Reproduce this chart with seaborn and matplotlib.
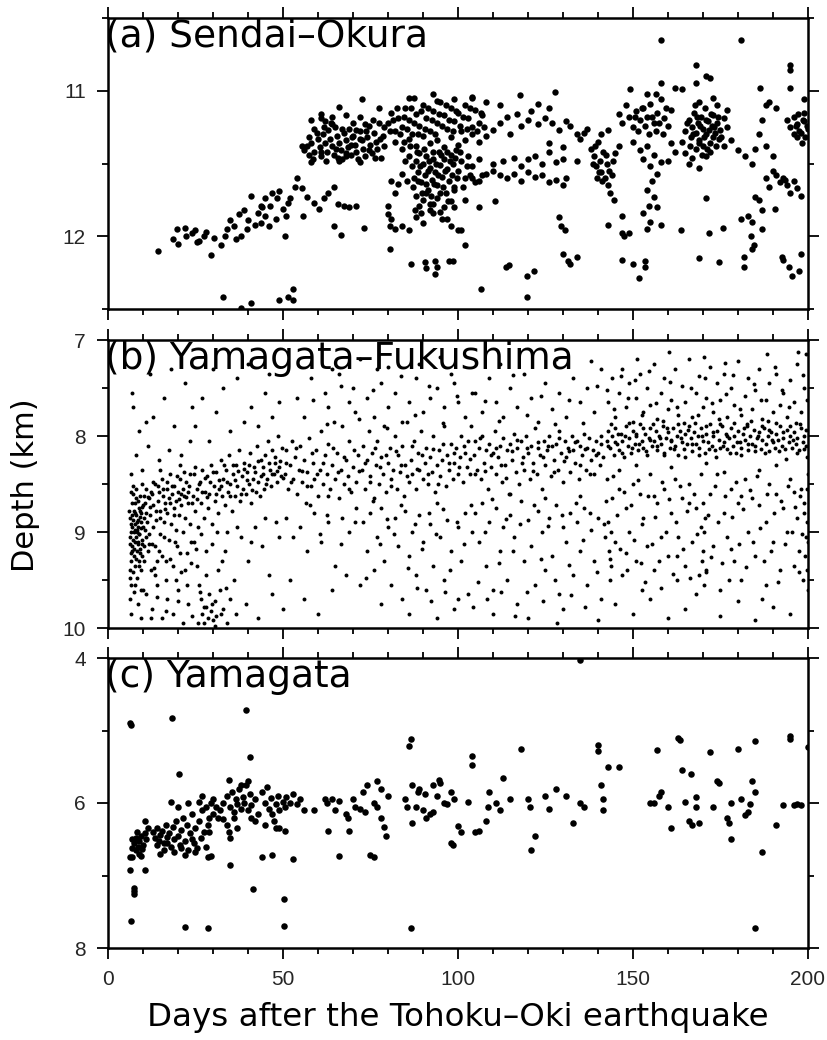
import numpy as np
import pandas as pd
import matplotlib
matplotlib.use("Agg")
import matplotlib.pyplot as plt
import seaborn as sns
from matplotlib.ticker import MultipleLocator

# ---------------- data (day, depth km) ----------------
panel_labels = ["(a) Sendai\u2013Okura", "(b) Yamagata\u2013Fukushima", "(c) Yamagata"]
x_label = "Days after the Tohoku\u2013Oki earthquake"
y_label = "Depth (km)"

sendai_pts = [
    # early ramp
    (14.4,12.10),(18.6,12.02),(19.7,11.95),(22,11.94),(22.3,12.0),(25,11.96),(25.3,12.04),(27.3,12.0),
    (29.3,12.13),(30.4,12.01),(32.2,12.06),(33.3,12.0),(36,11.93),(36.6,12.02),(37.3,11.85),(39.6,11.95),
    (40,11.89),(38.9,11.82),(43,11.84),(43.6,11.79),(44.9,11.86),(43.6,11.91),(46.3,11.79),(48.3,11.74),
    (49,11.69),(50,11.81),(51,11.86),(51.3,11.77),(50.6,12.00),(52,11.74),(53.3,11.66),(54,11.60),
    (55.3,11.67),(55.6,11.86),(56.9,11.73),(58.9,11.77),(60.3,11.81),(61.6,11.74),(63,11.70),(64.6,11.66),
    (65.6,11.78),(67.3,11.79),(69,11.80),(71,11.79),(48,11.88),(46,11.93),(44,11.80),(42,11.92),(41,11.72),
    (47,11.70),(35,11.89),(34,11.95),(28,11.97),(26,12.03),(24,11.98),(20,12.05),(38,12.0),(45,11.74),
    # cluster days 55-79
    (56,11.41),(57,11.38),(57.5,11.44),(58,11.36),(59,11.42),(60,11.33),(60.5,11.39),(61,11.45),(61.5,11.30),
    (62,11.36),(62.5,11.42),(63,11.27),(63.5,11.33),(64,11.38),(64.5,11.44),(65,11.25),(65.5,11.31),(66,11.36),
    (66.5,11.41),(67,11.47),(67.5,11.29),(68,11.34),(68.5,11.39),(69,11.26),(69.5,11.44),(70,11.31),(70.5,11.37),
    (71,11.42),(71.5,11.47),(72,11.28),(72.5,11.34),(73,11.40),(73.5,11.45),(74,11.32),(74.5,11.24),(75,11.37),
    (75.5,11.43),(76,11.29),(76.5,11.35),(77,11.40),(77.5,11.22),(78,11.46),(78.5,11.31),(79,11.38),(62,11.21),
    (64,11.23),(66,11.48),(68,11.45),(70,11.22),(72,11.49),(59,11.26),(61,11.19),(64,11.18),(58,11.20),
    (68,11.17),(72,11.18),(61,11.16),(66,11.11),(72.7,11.06),(77.3,11.12),
    (55.5,11.38),(57.3,11.32),(58.6,11.47),(59.8,11.29),(60.8,11.42),(62.3,11.48),(63.7,11.22),(65.2,11.40),
    (66.8,11.26),(67.9,11.43),(69.3,11.37),(70.8,11.27),(71.9,11.33),(73.3,11.23),(74.7,11.41),(76.2,11.46),
    (77.6,11.33),(78.8,11.25),(57.9,11.49),(61.8,11.25),(65.7,11.46),(69.7,11.32),(73.7,11.28),(75.8,11.20),
    # cluster days 80-108
    (80,11.22),(81,11.15),(82,11.28),(83,11.19),(84,11.25),(85,11.12),(86,11.20),(87,11.30),(88,11.16),
    (89,11.24),(90,11.10),(91,11.19),(92,11.28),(93,11.14),(94,11.22),(95,11.08),(96,11.17),(97,11.26),
    (98,11.12),(99,11.21),(100,11.15),(101,11.28),(102,11.10),(103,11.19),(104,11.25),(105,11.13),(106,11.22),
    (107,11.17),(108,11.08),(104,11.05),(99,11.06),(94,11.07),(86,11.05),(82,11.35),(84,11.40),(86,11.33),
    (88,11.38),(90,11.31),(92,11.36),(94,11.34),(96,11.39),(98,11.32),(100,11.37),(102,11.34),(104,11.30),
    (106,11.35),(108,11.31),(87.3,11.05),(93,11.02),(104,11.04),
    (80.5,11.28),(81.5,11.20),(82.5,11.12),(83.5,11.30),(84.5,11.18),(85.5,11.26),(86.5,11.12),(87.5,11.22),
    (88.5,11.30),(89.5,11.14),(90.5,11.26),(91.5,11.12),(92.5,11.20),(93.5,11.30),(94.5,11.16),(95.5,11.24),
    (96.5,11.10),(97.5,11.20),(98.5,11.28),(99.5,11.14),(100.5,11.24),(101.5,11.18),(102.5,11.26),(103.5,11.12),
    (105.5,11.28),(106.5,11.15),(107.5,11.25),
    (86,11.45),(87,11.52),(87.5,11.60),(88,11.48),(88.5,11.56),(89,11.43),(89.5,11.63),(90,11.50),(90.5,11.58),
    (91,11.45),(91.5,11.68),(92,11.53),(92.5,11.61),(93,11.47),(93.5,11.56),(94,11.65),(94.5,11.42),(95,11.51),
    (95.5,11.59),(96,11.47),(96.5,11.70),(97,11.54),(97.5,11.62),(98,11.44),(98.5,11.50),(99,11.66),(99.5,11.41),
    (100,11.55),(101,11.48),(102,11.60),(103,11.45),(104,11.52),(105,11.63),(106,11.47),(107,11.58),(84,11.57),
    (85,11.48),(83,11.64),(82,11.70),(81,11.62),(88,11.72),(90,11.75),(92,11.78),(94,11.74),(96,11.80),
    (98,11.76),(93,11.84),(91,11.70),(89,11.79),(80,11.79),(81,11.88),(80.5,11.93),(82,11.95),(84,11.93),
    (86,11.96),(88,11.87),(90,11.91),(92,11.82),(93,11.78),(95,11.83),(97,11.88),(98,11.93),(100,11.96),
    (101,11.96),(106,11.80),
    (86.3,11.38),(87.2,11.66),(88.2,11.42),(88.7,11.62),(89.2,11.52),(89.8,11.70),(90.3,11.40),(90.8,11.64),
    (91.3,11.55),(91.8,11.48),(92.3,11.72),(92.8,11.42),(93.2,11.64),(93.8,11.50),(94.2,11.58),(94.8,11.70),
    (95.2,11.44),(95.8,11.66),(96.2,11.55),(96.8,11.42),(97.2,11.76),(97.8,11.48),(98.2,11.58),(98.8,11.68),
    (99.2,11.46),(99.8,11.60),(100.5,11.42),(101.5,11.66),(102.5,11.52),(103.5,11.58),(89.5,11.84),(95.5,11.88),
    (99,11.80),(102,11.75),(84.5,11.35),(85.5,11.62),(87.8,11.82),
    # days 104-136
    (104,11.60),(106,11.62),(108,11.57),(110,11.55),(112,11.58),(114,11.60),(116,11.57),(118,11.62),(120,11.56),
    (122,11.59),(124,11.58),(126,11.63),(128,11.61),(130,11.65),(131,11.60),(110,11.50),(113,11.48),(116,11.46),
    (118,11.52),(120,11.47),(122,11.45),(124,11.50),(126,11.42),(128,11.49),(130,11.47),(134,11.48),
    (110,11.27),(112,11.22),(114,11.18),(115,11.30),(117,11.16),(118,11.24),(120,11.20),(121,11.14),(123,11.23),
    (125,11.19),(126,11.12),(127,11.22),(129,11.27),(131,11.21),(132,11.24),(134,11.30),(135,11.33),(136,11.29),
    (117.8,11.03),(127.8,11.01),(123,11.09),(112,11.10),(130,11.39),(126,11.36),
    # days 137-146
    (137,11.26),(138,11.40),(139,11.45),(139.5,11.52),(140,11.35),(140.5,11.48),(141,11.56),(141.5,11.42),
    (142,11.60),(142.5,11.50),(143,11.65),(143.5,11.70),(144,11.58),(145,11.43),(146,11.38),(144.5,11.75),
    (141,11.30),(143,11.27),(138.5,11.50),(139.2,11.38),(140.2,11.56),(141.2,11.62),(142.2,11.44),(143.2,11.55),
    (144.2,11.48),(139.8,11.60),
    # days 146-162
    (146,11.16),(147,11.22),(148,11.10),(149,11.18),(149.1,10.99),(150,11.25),(151,11.14),(152,11.20),(153,11.12),
    (154,11.18),(155,11.09),(156,11.22),(157,11.15),(158,11.06),(159,11.19),(160,11.24),(161,11.13),(154,11.02),
    (156.5,11.02),(158,10.95),(162,10.98),(164,10.99),(150,11.35),(152,11.41),(153,11.47),(154,11.38),(155,11.52),
    (156,11.44),(157,11.57),(158,11.49),(155.5,11.62),(154,11.68),(156,11.73),(153,11.84),(155,11.90),(154,11.95),
    (157,11.80),(158,11.92),(160,11.48),(161,11.36),(162,11.42),
    (150.5,11.18),(151.5,11.28),(152.5,11.12),(153.5,11.24),(154.5,11.30),(155.5,11.18),(156.5,11.28),
    (157.5,11.22),(158.5,11.30),(159.5,11.12),
    # cluster days 164-177
    (164,11.35),(165,11.28),(166,11.20),(166.5,11.32),(167,11.25),(167.5,11.15),(168,11.29),(168.5,11.22),
    (169,11.34),(169.5,11.18),(170,11.26),(170.5,11.12),(171,11.30),(171.5,11.21),(172,11.36),(172.5,11.24),
    (173,11.17),(173.5,11.29),(174,11.22),(174.5,11.33),(175,11.27),(176,11.19),(177,11.25),(165,11.43),
    (166,11.50),(167,11.46),(168,11.40),(169,11.53),(170,11.38),(171,11.45),(172,11.42),(171,10.90),(169,11.08),
    (173,11.05),(176,11.38),(177,11.13),(174,11.10),
    (165.5,11.22),(166.2,11.38),(167.2,11.30),(168.2,11.18),(168.8,11.36),(169.2,11.24),(170.2,11.32),
    (170.8,11.20),(171.2,11.40),(171.8,11.27),(172.2,11.16),(172.8,11.32),(173.2,11.25),(173.8,11.38),
    (174.2,11.18),(175.2,11.32),(169.8,11.44),(167.8,11.10),
    # days 178-200
    (178,11.34),(180,11.41),(182,11.45),(184,11.50),(185,11.40),(186,11.30),(187,11.20),(188,11.10),(186.4,10.98),
    (190,11.55),(191,11.58),(192,11.63),(193,11.60),(194,11.65),(195,11.70),(196,11.62),(197,11.67),(198,11.72),
    (188,11.60),(189,11.66),(186,11.75),(187,11.82),(184,11.90),(181,11.88),(187,11.95),(195,10.82),(195,10.86),
    (195,10.98),(199,11.06),(194,11.20),(195,11.25),(196,11.18),(197,11.23),(198,11.29),(199,11.21),(200,11.26),
    (197,11.32),(199,11.15),(196,11.30),(188,11.38),(190,11.45),(181,10.65),(158,10.65),(168,10.82),(172,10.91),
    (168,10.95),(189,11.08),(191,11.12),
    (196.5,11.24),(197.5,11.28),(198.5,11.20),(199.2,11.32),(199.6,11.24),(198.2,11.36),(197.2,11.16),
    # mid scatter
    (64.6,11.93),(66.6,11.99),(73.2,11.94),(80,11.85),(110.5,11.76),(129,11.87),(129.5,11.93),(130.5,11.96),
    (143,11.92),(147,11.86),(147,11.98),(147.5,12.0),(149,11.98),(154.5,11.79),(163.8,11.96),(171,11.74),
    (171.7,11.98),(175.8,11.94),(183,11.86),(183.6,12.0),(185,11.73),(190.5,11.81),(193.5,11.61),
    # deep scatter
    (80.6,12.09),(86.5,12.19),(90.5,12.18),(91,12.22),(93.5,12.17),(93.5,12.26),(94,12.21),(97.5,12.17),
    (98.5,12.17),(101.9,12.06),(106.5,12.36),(113.8,12.21),(114.5,12.20),(119.6,12.42),(119.8,12.27),
    (121.8,12.24),(130,12.12),(131.5,12.17),(132,12.19),(134,12.14),(147,12.16),(150,12.19),(151.8,12.29),
    (153.5,12.21),(153.5,12.17),(169,12.15),(174.5,12.18),(181.8,12.21),(181.8,12.14),(184,12.09),(184.5,12.06),
    (192.5,12.14),(194.5,12.21),(195.5,12.27),(197.5,12.24),(198,12.12),(193,12.16),
    (33,12.42),(38,12.49),(41,12.46),(49,12.44),(51.5,12.42),(53,12.36),(53,12.44),
]

yamagata_fukushima_pts = [
    # days 6-12
    (6.2,9.05),(6.4,8.85),(6.5,9.30),(6.6,9.55),(6.8,8.70),(6.9,9.15),(7.0,8.95),(7.1,9.42),(7.2,8.60),(7.3,9.00),
    (7.4,9.25),(7.5,8.78),(7.6,9.10),(7.7,8.92),(7.8,9.35),(7.9,8.55),(8.0,9.05),(8.1,8.82),(8.2,9.20),(8.3,8.98),
    (8.4,9.48),(8.5,8.68),(8.6,9.12),(8.7,8.88),(8.8,9.30),(8.9,8.75),(9.0,9.02),(9.1,8.62),(9.2,9.18),(9.3,8.90),
    (9.4,9.40),(9.5,8.80),(9.6,9.08),(9.7,8.50),(9.8,9.25),(9.9,8.95),(10.0,8.72),(10.2,9.15),(10.4,8.85),(6.3,9.70),
    (6.7,9.85),(7.4,9.62),(8.6,9.75),(9.4,9.90),(6.5,8.40),(7.9,8.20),(8.8,7.95),(7.2,7.70),(9.6,8.35),(6.9,7.55),
    (10.1,9.60),(7.0,9.20),(8.0,8.65),(9.0,9.35),(6.6,9.00),(7.6,8.70),(8.4,9.00),(9.2,8.78),
    (6.1,8.78),(6.3,9.12),(6.45,8.92),(6.7,9.22),(6.85,8.82),(7.05,9.08),(7.25,8.88),(7.45,9.18),(7.65,8.98),
    (7.85,8.80),(8.05,9.28),(8.25,8.90),(8.45,9.10),(8.65,8.95),(8.85,9.02),(9.05,8.84),(9.25,9.22),(9.45,8.96),
    (9.65,8.74),(9.85,9.12),(10.3,8.62),(10.6,8.98),(10.9,8.80),(11.3,8.64),(11.6,9.02),(12.1,8.74),(12.4,8.58),
    (12.7,9.12),(6.2,9.40),(6.6,8.58),(7.8,9.55),(9.3,9.60),(6.4,9.48),(7.1,8.52),
    # days 10-24
    (10.5,8.70),(10.8,9.05),(11.0,8.55),(11.2,8.90),(11.5,9.20),(11.7,8.65),(12.0,8.82),(12.2,9.40),(12.5,8.60),
    (12.8,8.95),(13.0,8.72),(13.3,9.15),(13.5,8.50),(13.8,8.88),(14.0,9.30),(14.3,8.68),(14.5,8.58),(14.8,9.02),
    (15.0,8.78),(15.3,8.45),(15.5,9.25),(15.8,8.62),(16.0,8.90),(16.3,8.70),(16.5,9.50),(16.8,8.55),(17.0,8.80),
    (17.3,9.08),(17.5,8.65),(17.8,8.40),(18.0,8.92),(18.3,8.60),(18.5,9.35),(18.8,8.75),(19.0,8.52),(19.3,8.98),
    (19.5,8.68),(19.8,9.15),(20.0,8.58),(20.3,8.82),(20.5,8.45),(20.8,9.42),(21.0,8.72),(21.3,8.55),(21.5,9.00),
    (21.8,8.62),(22.0,8.85),(22.3,8.48),(22.5,9.22),(22.8,8.70),(23.0,8.58),(23.3,8.92),(23.5,8.40),(23.8,9.10),
    (11.0,9.65),(12.5,9.80),(14.0,9.55),(15.5,9.90),(17.0,9.70),(18.5,9.85),(20.0,9.60),(21.5,9.95),(23.0,9.75),
    (11.5,8.10),(13.0,7.80),(14.5,8.25),(16.0,7.60),(17.5,8.15),(19.0,7.90),(20.5,8.30),(22.0,7.45),(23.5,8.05),
    (12.0,7.35),(18.0,7.30),(13.5,9.45),(16.5,9.30),(19.5,9.50),(22.5,9.55),(15.0,8.35),(21.0,8.20),(10.8,7.85),
    (24.0,7.70),
    (12.9,8.48),(13.6,8.78),(14.2,8.52),(14.9,8.85),(15.6,8.55),(16.2,8.76),(16.9,8.48),(17.7,8.70),(18.4,8.52),
    (18.9,8.82),(19.6,8.42),(20.2,8.66),(20.9,8.60),(21.7,8.38),(22.4,8.64),(23.2,8.52),(23.9,8.70),
    (10.4,9.30),(11.8,9.12),(13.2,9.38),(14.6,9.20),(16.1,9.05),(17.6,9.28),(19.1,9.10),(20.6,9.22),(22.1,9.40),
    (23.6,9.32),(12.3,9.90),(13.9,9.68),(16.7,9.82),(19.9,9.72),
    # days 24-50
    (24.2,8.62),(24.6,8.40),(25.0,8.78),(25.4,8.55),(25.8,8.95),(26.2,8.48),(26.6,8.70),(27.0,8.35),(27.4,8.85),
    (27.8,8.58),(28.2,8.42),(28.6,8.75),(29.0,8.60),(29.4,8.30),(29.8,8.92),(30.2,8.52),(30.6,8.68),(31.0,8.38),
    (31.4,8.80),(31.8,8.55),(32.2,8.25),(32.6,8.62),(33.0,8.45),(33.4,8.72),(33.8,8.35),(34.2,8.58),(34.6,8.20),
    (35.0,8.50),(35.4,8.78),(35.8,8.40),(36.2,8.62),(36.6,8.30),(37.0,8.52),(37.4,8.15),(37.8,8.68),(38.2,8.42),
    (38.6,8.55),(39.0,8.28),(39.4,8.60),(39.8,8.38),(40.2,8.50),(40.6,8.18),(41.0,8.70),(41.4,8.45),(41.8,8.32),
    (42.2,8.58),(42.6,8.10),(43.0,8.48),(43.4,8.62),(43.8,8.25),(44.2,8.40),(44.6,8.55),(45.0,8.20),(45.4,8.45),
    (45.8,8.05),(46.2,8.35),(46.6,8.52),(47.0,8.15),(47.4,8.40),(47.8,8.28),(48.2,8.48),(48.6,8.00),(49.0,8.32),
    (49.4,8.42),(49.8,8.12),
    (24.8,8.32),(25.3,8.66),(26.1,8.50),(26.9,8.58),(27.6,8.44),(28.4,8.64),(29.2,8.48),(30.0,8.38),(30.9,8.60),
    (31.6,8.46),(32.4,8.52),(33.2,8.30),(34.0,8.48),(34.9,8.62),(35.6,8.30),(36.4,8.46),(37.2,8.36),(38.0,8.60),
    (38.9,8.34),(39.7,8.46),(40.4,8.30),(41.2,8.56),(42.0,8.38),(42.8,8.26),(43.6,8.42),(44.4,8.32),(45.2,8.50),
    (46.0,8.28),(46.9,8.40),(47.6,8.22),(48.4,8.36),(49.2,8.26),(49.9,8.44),
    (25.1,9.18),(26.6,9.02),(28.1,9.45),(29.6,9.12),(31.1,9.00),(32.6,9.30),(24.1,9.88),(26.3,9.62),(29.8,9.75),
    (32.3,9.85),(33.7,9.58),(25.7,9.95),(27.3,9.78),(30.7,9.98),
    (24.5,9.10),(25.5,9.35),(26.5,9.70),(27.0,9.85),(27.5,9.95),(28.0,9.78),(28.5,9.90),(29.0,9.65),(29.5,9.82),
    (30.0,9.92),(30.5,9.72),(31.0,9.88),(32.0,9.60),(33.0,9.80),(34.0,9.95),(35.0,9.70),(26.0,9.55),(31.5,9.40),
    (33.5,9.20),(36.0,9.50),(38.0,9.05),(40.0,9.30),(42.0,8.95),(44.0,9.15),(46.0,9.45),(48.0,8.90),(36.5,9.85),
    (39.5,9.75),(43.0,9.90),(47.0,9.65),(50.0,9.80),(37.0,8.95),(41.0,9.10),(45.0,8.85),(49.0,9.05),(34.0,9.00),
    (28.0,9.20),
    (25,7.90),(27,7.60),(29,8.05),(31,7.75),(33,7.50),(35,7.95),(37,7.40),(39,7.85),(41,7.70),(43,7.90),(45,7.55),
    (47,7.80),(49,7.65),(30,7.30),(40,7.25),(46,7.35),
    # days 50-72
    (50.5,8.40),(51.0,8.15),(51.5,8.55),(52.0,8.30),(52.5,8.05),(53.0,8.45),(53.5,8.22),(54.0,8.60),(54.5,8.35),
    (55.0,8.10),(55.5,8.48),(56.0,8.25),(56.5,8.70),(57.0,8.38),(57.5,8.02),(58.0,8.52),(58.5,8.28),(59.0,8.45),
    (59.5,8.15),(60.0,8.62),(60.5,8.35),(61.0,7.95),(61.5,8.50),(62.0,8.20),(62.5,8.40),(63.0,8.08),(63.5,8.55),
    (64.0,8.30),(64.5,7.85),(65.0,8.45),(65.5,8.18),(66.0,8.65),(66.5,8.35),(67.0,7.90),(67.5,8.50),(68.0,8.25),
    (68.5,8.42),(69.0,8.05),(69.5,8.58),(70.0,8.32),(70.5,7.75),(71.0,8.48),(71.5,8.20),
    (51,8.85),(53,9.05),(55,8.95),(57,9.20),(59,8.80),(61,9.10),(63,8.90),(65,9.35),(67,8.85),(69,9.00),(71,8.75),
    (52,9.50),(56,9.70),(60,9.85),(64,9.60),(68,9.45),(72,9.55),(54,7.60),(58,7.40),(62,7.55),(66,7.35),(70,7.50),
    (56,7.80),(63,7.70),(69,7.65),(64,7.30),(72,7.20),(80,7.28),(95,7.18),
    # days 72-104
    (72.5,8.35),(73.0,8.10),(73.5,8.55),(74.0,8.25),(74.5,7.95),(75.0,8.42),(75.5,8.18),(76.0,8.65),(76.5,8.30),
    (77.0,8.05),(77.5,8.50),(78.0,8.22),(78.5,8.40),(79.0,7.90),(79.5,8.58),(80.0,8.28),(80.5,8.12),(81.0,8.45),
    (81.5,8.35),(82.0,8.00),(82.5,8.55),(83.0,8.20),(83.5,8.38),(84.0,8.10),(84.5,8.62),(85.0,8.30),(85.5,7.85),
    (86.0,8.48),(86.5,8.25),(87.0,8.40),(87.5,8.05),(88.0,8.55),(88.5,8.18),(89.0,8.35),(89.5,7.95),(90.0,8.45),
    (90.5,8.28),(91.0,8.12),(91.5,8.50),(92.0,8.22),(92.5,8.38),(93.0,8.00),(93.5,8.58),(94.0,8.30),(94.5,8.15),
    (95.0,8.42),(95.5,8.25),(96.0,7.90),(96.5,8.52),(97.0,8.20),(97.5,8.35),(98.0,8.08),(98.5,8.45),(99.0,8.28),
    (99.5,8.12),(100.0,8.40),(100.5,8.22),(101.0,8.00),(101.5,8.48),(102.0,8.18),(102.5,8.32),(103.0,8.05),
    (103.5,8.40),
    (73,8.90),(74,9.20),(75,8.80),(76,9.40),(77,9.05),(78,8.75),(79,9.30),(80,8.95),(81,9.55),(82,8.85),(83,9.15),
    (84,9.70),(85,8.78),(86,9.25),(87,9.00),(88,9.45),(89,8.82),(90,9.10),(91,9.60),(92,8.92),(93,9.35),(94,8.70),
    (95,9.05),(96,9.50),(97,8.88),(98,9.20),(99,9.80),(100,8.95),(101,9.30),(102,8.80),(103,9.65),(104,9.00),
    (78,9.75),(86,9.85),(94,9.90),(100,9.70),
    (74,7.60),(76,7.80),(78,7.45),(80,7.70),(82,7.55),(84,7.85),(86,7.65),(88,7.40),(90,7.75),(92,7.60),(94,7.50),
    (96,7.70),(98,7.35),(100,7.65),(102,7.80),(104,7.55),(77,7.30),(89,7.25),(99,7.45),
    # extra days 50-142
    (50.8,8.28),(52.3,8.48),(53.8,8.12),(55.3,8.36),(56.8,8.52),(58.3,8.18),(59.8,8.40),(61.3,8.28),(62.8,8.62),
    (64.3,8.12),(65.8,8.38),(67.3,8.22),(68.8,8.55),(70.3,8.15),(71.8,8.36),(73.3,8.28),(74.8,8.48),(76.3,8.12),
    (77.8,8.32),(79.3,8.20),(80.8,8.52),(82.3,8.16),(83.8,8.30),(85.3,8.42),(86.8,8.10),(88.3,8.34),(89.8,8.20),
    (91.3,8.40),(92.8,8.14),(94.3,8.50),(95.8,8.08),(97.3,8.28),(98.8,8.18),(100.3,8.32),(101.8,8.10),(103.3,8.24),
    (104.8,8.40),(106.3,8.02),(107.8,8.36),(109.3,8.20),(110.8,8.12),(112.3,8.30),(113.8,8.44),(115.3,8.16),
    (116.8,8.04),(118.3,8.28),(119.8,8.12),(121.3,8.36),(122.8,8.06),(124.3,8.22),(125.8,8.10),(127.3,8.38),
    (128.8,8.02),(130.3,8.26),(131.8,8.16),(133.3,8.06),(134.8,8.30),(136.3,8.14),(137.8,8.40),(139.3,8.20),
    (140.8,8.00),
    (57.6,8.72),(60.6,9.02),(62.6,8.82),(66.6,9.12),(70.6,8.90),(73.6,9.48),(75.6,8.68),(77.6,9.12),(79.6,8.86),
    (81.6,9.02),(83.6,8.72),(85.6,9.38),(87.6,8.92),(89.6,9.18),(91.6,8.80),(93.6,9.02),(95.6,8.76),(97.6,9.40),
    (99.6,8.90),(101.6,9.12),(103.6,8.72),(105.6,9.52),(107.6,9.00),(109.6,8.66),(111.6,9.32),(113.6,8.86),
    (115.6,9.20),(117.6,8.92),(119.6,9.62),(121.6,8.72),(123.6,9.28),(125.6,8.94),(127.6,9.50),(129.6,8.82),
    (131.6,9.34),(133.6,8.70),(135.6,9.08),(137.6,8.80),(139.6,9.42),(141.6,8.92),
    (88.4,9.58),(92.4,9.72),(96.4,9.62),(104.4,9.78),(108.4,9.70),(112.4,9.62),(116.4,9.88),(124.4,9.72),
    (128.4,9.95),(132.4,9.66),(136.4,9.78),
    (58.7,7.62),(62.7,7.88),(66.7,7.48),(71.7,7.82),(75.7,7.52),(79.7,7.92),(83.7,7.38),(87.7,7.78),(91.7,7.48),
    (95.7,7.86),(99.7,7.58),(103.7,7.90),(107.7,7.64),(111.7,7.84),(115.7,7.36),(119.7,7.78),(123.7,7.58),
    (127.7,7.88),(131.7,7.62),(135.7,7.86),(139.7,7.48),
    # days 104-142
    (104.5,8.20),(105,8.05),(105.5,8.35),(106,8.12),(106.5,8.45),(107,8.00),(107.5,8.28),(108,8.15),(108.5,8.55),
    (109,8.08),(109.5,8.32),(110,8.18),(110.5,7.95),(111,8.40),(111.5,8.22),(112,8.10),(112.5,8.48),(113,8.02),
    (113.5,8.30),(114,8.15),(114.5,8.60),(115,8.08),(115.5,8.25),(116,7.98),(116.5,8.38),(117,8.12),(117.5,8.50),
    (118,8.05),(118.5,8.22),(119,8.35),(119.5,8.00),(120,8.18),(120.5,8.45),(121,8.10),(121.5,8.28),(122,7.92),
    (122.5,8.40),(123,8.12),(123.5,8.20),(124,8.55),(124.5,8.05),(125,8.30),(125.5,8.15),(126,8.00),(126.5,8.42),
    (127,8.10),(127.5,8.25),(128,8.08),(128.5,8.35),(129,7.95),(129.5,8.18),(130,8.48),(130.5,8.05),(131,8.22),
    (131.5,8.12),(132,8.38),(132.5,8.00),(133,8.15),(133.5,8.28),(134,8.05),(134.5,8.45),(135,8.10),(135.5,8.20),
    (136,7.98),(136.5,8.35),(137,8.12),(137.5,8.02),(138,8.25),(138.5,8.15),(139,8.40),(139.5,8.05),(140,8.18),
    (140.5,8.30),(141,8.08),(141.5,8.22),
    (105,8.80),(106,9.10),(107,8.70),(108,9.35),(109,8.90),(110,9.60),(111,8.75),(112,9.20),(113,8.95),(114,9.50),
    (115,8.82),(116,9.05),(117,9.75),(118,8.68),(119,9.30),(120,8.88),(121,9.15),(122,9.55),(123,8.78),(124,9.00),
    (125,9.40),(126,8.85),(127,9.25),(128,8.72),(129,9.65),(130,8.95),(131,9.10),(132,8.80),(133,9.45),(134,8.90),
    (135,9.20),(136,8.75),(137,9.55),(138,8.98),(139,9.30),(140,8.85),(141,9.70),(142,9.05),(110,9.85),(120,9.90),
    (130,9.80),(140,9.92),(115,8.60),(125,8.65),(135,8.62),
    (105,7.55),(107,7.75),(109,7.40),(111,7.65),(113,7.80),(115,7.50),(117,7.70),(119,7.35),(121,7.60),(123,7.85),
    (125,7.45),(127,7.72),(129,7.55),(131,7.80),(133,7.40),(135,7.65),(137,7.50),(139,7.75),(141,7.30),(112,7.25),
    (128,7.20),(138,7.22),
    # days 142-200 band
    (142.5,8.05),(143,7.95),(143.5,8.12),(144,8.00),(144.5,8.20),(145,7.92),(145.5,8.08),(146,8.15),(146.5,7.98),
    (147,8.05),(147.5,8.22),(148,7.90),(148.5,8.10),(149,8.02),(149.5,8.18),(150,7.95),(150.5,8.08),(151,8.00),
    (151.5,8.15),(152,7.88),(152.5,8.05),(153,8.12),(153.5,7.98),(154,8.20),(154.5,8.02),(155,7.92),(155.5,8.10),
    (156,8.05),(156.5,7.95),(157,8.15),(157.5,8.00),(158,8.08),(158.5,7.90),(159,8.18),(159.5,8.02),(160,7.96),
    (160.5,8.12),(161,8.05),(161.5,7.92),(162,8.10),(162.5,8.00),(163,8.20),(163.5,7.95),(164,8.06),(164.5,8.14),
    (165,7.98),(165.5,8.08),(166,7.90),(166.5,8.02),(167,8.16),(167.5,7.96),(168,8.08),(168.5,8.00),(169,8.12),
    (169.5,7.92),(170,8.05),(170.5,8.18),(171,7.98),(171.5,8.06),(172,7.88),(172.5,8.10),(173,8.00),(173.5,8.15),
    (174,7.95),(174.5,8.04),(175,8.12),(175.5,7.90),(176,8.06),(176.5,7.98),(177,8.14),(177.5,8.02),(178,7.92),
    (178.5,8.10),(179,8.00),(179.5,8.18),(180,7.95),(180.5,8.06),(181,8.12),(181.5,7.98),(182,8.04),(182.5,7.90),
    (183,8.15),(183.5,8.00),(184,8.08),(184.5,7.94),(185,8.10),(185.5,8.02),(186,7.96),(186.5,8.14),(187,8.04),
    (187.5,7.92),(188,8.08),(188.5,8.00),(189,8.16),(189.5,7.96),(190,8.06),(190.5,8.12),(191,7.98),(191.5,8.04),
    (192,7.90),(192.5,8.10),(193,8.02),(193.5,8.14),(194,7.94),(194.5,8.06),(195,8.00),(195.5,8.12),(196,7.96),
    (196.5,8.08),(197,8.02),(197.5,8.15),(198,7.92),(198.5,8.06),(199,8.00),(199.5,8.10),
    (142.8,8.10),(143.7,7.88),(144.8,8.06),(145.8,7.98),(146.8,8.18),(147.8,8.00),(148.8,7.86),(149.8,8.12),
    (150.8,7.98),(151.8,8.08),(152.8,7.92),(153.8,8.16),(154.8,8.04),(155.8,7.88),(156.8,8.10),(157.8,8.02),
    (158.8,8.20),(159.8,7.92),(160.8,8.04),(161.8,8.14),(162.8,7.88),(163.8,8.02),(164.8,8.22),(165.8,7.94),
    (166.8,8.08),(167.8,7.86),(168.8,8.20),(169.8,8.00),(170.8,7.90),(171.8,8.14),(172.8,7.96),(173.8,8.22),
    (174.8,7.88),(175.8,8.10),(176.8,8.00),(177.8,8.18),(178.8,7.86),(179.8,8.06),(180.8,8.20),(181.8,7.92),
    (182.8,8.08),(183.8,7.84),(184.8,8.16),(185.8,8.00),(186.8,7.90),(187.8,8.18),(188.8,7.94),(189.8,8.04),
    (190.8,7.86),(191.8,8.16),(192.8,7.96),(193.8,8.24),(194.8,7.90),(195.8,8.04),(196.8,8.18),(197.8,7.88),
    (198.8,8.14),(199.3,7.94),(199.8,8.22),
    # days 142-200 spread
    (142.5,8.45),(143,8.90),(143.2,9.20),(143.4,9.50),(143.6,9.00),(143.8,9.35),(144,8.65),(145,9.10),(146,8.35),
    (147,9.45),(148,8.75),(149,9.00),(150,8.50),(151,9.30),(152,8.60),(152.5,9.60),(153,8.85),(154,9.15),(155,8.40),
    (156,9.40),(157,8.70),(158,9.05),(159,8.55),(160,9.25),(161,8.80),(162,8.45),(162.5,9.50),(163,9.05),(164,8.65),
    (165,9.35),(166,8.50),(167,9.10),(168,8.75),(169,9.45),(169.5,8.95),(170,9.20),(170.3,9.55),(170.6,8.85),
    (171,9.40),(172,8.60),(173,9.15),(174,8.40),(175,9.60),(176,8.80),(177,9.05),(178,8.55),(179,9.30),(180,8.70),
    (181,9.50),(182,8.45),(183,9.00),(184,8.65),(185,9.25),(186,8.35),(187,9.70),(188,8.90),(189,8.50),(190,9.10),
    (191,8.60),(192,9.40),(193,8.75),(194,9.00),(195,8.45),(196,9.35),(197,8.85),(197.5,9.20),(198,8.55),
    (198.5,9.50),(199,8.70),(199.5,9.05),(199.7,9.40),(199.8,8.90),(145,9.75),(150,9.85),(155,9.70),(160,9.90),
    (165,9.80),(175,9.88),(180,9.72),(185,9.92),(190,9.78),(195,9.85),(146,8.55),(151,8.30),(156,8.62),(161,8.32),
    (166,8.70),(171,8.28),(176,8.38),(181,8.62),(186,8.72),(191,8.30),(196,8.58),(148,9.22),(158,9.58),(168,9.65),
    (178,9.18),(188,9.55),
    (142.3,8.68),(143.3,9.28),(144.3,8.42),(145.3,8.82),(146.3,9.18),(147.3,8.58),(148.3,9.40),(149.3,8.72),
    (150.3,9.08),(151.3,8.46),(152.3,9.32),(152.7,8.92),(153.3,9.52),(154.3,8.62),(155.3,9.12),(156.3,8.84),
    (157.3,9.30),(158.3,8.48),(159.3,9.00),(160.3,8.66),(161.3,9.44),(162.3,8.90),(162.7,9.25),(163.3,8.52),
    (164.3,9.18),(165.3,8.78),(166.3,9.48),(167.3,8.60),(168.3,9.02),(169.3,8.40),(169.8,9.30),(170.1,8.70),
    (170.4,9.00),(170.8,9.42),(171.3,8.82),(172.3,9.26),(173.3,8.52),(174.3,8.90),(175.3,9.32),(176.3,8.62),
    (177.3,9.50),(178.3,8.84),(179.3,8.48),(180.3,9.12),(181.3,8.76),(182.3,9.36),(183.3,8.56),(184.3,9.10),
    (185.3,8.42),(186.3,8.96),(187.3,9.30),(188.3,8.60),(189.3,9.20),(190.3,8.80),(191.3,9.52),(192.3,8.68),
    (193.3,9.12),(194.3,8.52),(195.3,9.00),(196.3,8.74),(197.3,9.42),(197.7,8.62),(198.3,9.02),(198.8,8.80),
    (199.2,9.25),(199.6,8.55),(199.9,9.60),(199.9,9.10),(199.9,8.40),
    # days 142-200 shallow
    (143,7.65),(144,7.40),(145,7.80),(146,7.55),(147,7.30),(148,7.70),(149,7.45),(150,7.85),(151,7.60),(152,7.35),
    (153,7.75),(154,7.50),(155,7.68),(156,7.25),(157,7.82),(158,7.55),(159,7.40),(160,7.72),(161,7.62),(162,7.30),
    (163,7.78),(164,7.48),(165,7.65),(166,7.20),(167,7.80),(168,7.55),(169,7.38),(170,7.70),(171,7.60),(172,7.28),
    (173,7.75),(174,7.45),(175,7.62),(176,7.35),(177,7.80),(178,7.50),(179,7.68),(180,7.22),(181,7.78),(182,7.58),
    (183,7.40),(184,7.72),(185,7.52),(186,7.30),(187,7.82),(188,7.62),(189,7.45),(190,7.75),(191,7.35),(192,7.68),
    (193,7.55),(194,7.80),(195,7.42),(196,7.65),(197,7.25),(198,7.75),(199,7.50),(199.5,7.15),
    (142.6,7.52),(144.6,7.72),(146.6,7.38),(148.6,7.60),(150.6,7.42),(152.6,7.78),(154.6,7.32),(156.6,7.66),
    (158.6,7.84),(160.6,7.44),(162.6,7.70),(164.6,7.86),(166.6,7.50),(168.6,7.78),(170.6,7.40),(172.6,7.66),
    (174.6,7.82),(176.6,7.56),(178.6,7.36),(180.6,7.72),(182.6,7.88),(184.6,7.46),(186.6,7.62),(188.6,7.84),
    (190.6,7.28),(192.6,7.52),(194.6,7.70),(196.6,7.86),(198.6,7.36),(199.6,7.62),(197.2,7.12),(188.2,7.15),
    (170.2,7.18),(160.2,7.12),(151.2,7.20),(176.2,7.24),
]

yamagata_pts = [
    # days 6-12
    (7,6.50),(7.5,6.55),(8,6.48),(8.5,6.60),(9,6.52),(9.5,6.45),(10,6.58),(8,6.65),(9,6.70),(10.5,6.42),(7,6.62),
    (8.2,6.40),(9.8,6.63),(11,6.50),(6.8,6.75),(11.5,6.35),(10.6,6.25),(6.4,6.74),(9.3,6.73),(10.6,6.93),
    (6.4,6.92),(7.3,7.17),(7.3,7.22),(7.3,7.26),(6.7,7.63),
    # days 13-32
    (13,6.40),(13.5,6.48),(14,6.35),(14.5,6.52),(15,6.44),(15.5,6.38),(16,6.55),(16.5,6.30),(17,6.47),(17.5,6.42),
    (18,6.60),(18.5,6.33),(19,6.50),(19.5,6.25),(20,6.45),(20.5,6.58),(21,6.37),(21.5,6.20),(22,6.52),(22.5,6.30),
    (23,6.65),(23.5,6.42),(24,6.15),(24.5,6.55),(25,6.35),(25.5,6.62),(26,6.25),(26.5,6.48),(27,6.10),(27.5,6.40),
    (28,6.05),(28.5,6.30),(29,6.20),(29.5,6.00),(30,6.15),(16,6.65),(19,6.68),(22,6.72),(25,6.68),(28,6.60),
    (14,6.58),(17,6.55),(20,6.05),(23,6.00),(26,5.98),(15,6.70),(24,6.50),(21,6.62),(29.5,6.73),(18,5.98),
    (27,5.90),(30,5.95),(31,6.05),(31.5,6.20),(32,6.10),(29,6.40),(28.6,6.75),
    # days 33-56
    (33,6.00),(34,5.90),(35,6.05),(35.5,5.85),(36,6.12),(36.5,5.95),(37,6.02),(37.5,5.80),(38,6.08),(38.5,5.92),
    (39,6.00),(39.5,5.75),(40,6.10),(40.5,5.88),(41,6.03),(42,5.95),(43,6.15),(44,5.85),(45,6.00),(45.5,5.78),
    (46,6.08),(46.5,5.93),(47,6.15),(47.5,6.25),(48,6.02),(48.5,5.90),(49,6.10),(50,5.98),(50.5,6.05),(51,5.92),
    (52,6.00),(53,5.88),(54,6.02),(55,5.95),(56,6.10),(34,6.30),(35,6.48),(34.5,6.40),(35,6.85),(36,6.20),
    (42,6.25),(44,6.75),(47,6.72),(49,6.35),(53,6.77),(34.5,5.68),(38,5.75),(40,5.70),(37,6.35),(33,6.22),
    (41,6.20),(45,6.30),(48,6.35),(50.5,6.38),
    # days 58-100
    (59,6.10),(62,5.95),(62.5,6.00),(63,6.38),(64,5.95),(65,6.10),(66,5.97),(66,6.73),(68,6.15),(68.5,6.20),
    (69,6.38),(70,5.95),(70.5,6.05),(72,6.08),(73,5.85),(73.5,6.12),(74,5.75),(75,6.72),(76,6.75),(76,6.00),
    (77,5.70),(77,6.05),(78,5.80),(78,6.20),(79,6.33),(79.5,6.45),(80,5.90),(85,5.95),(85.5,6.05),(86,5.22),
    (86.5,5.12),(87,6.28),(87,5.75),(88,6.05),(88.5,5.85),(89,5.80),(90,6.10),(90.5,5.88),(91,6.20),(92,6.15),
    (93,5.75),(93,6.12),(94,5.90),(94.5,5.68),(95,5.72),(96,6.00),(97,6.02),(98,5.85),(98,6.55),(98.5,6.58),
    (99,5.95),
    # days 100-200
    (100,6.32),(101,6.40),(103,5.98),(104,5.35),(104,5.48),(105,6.40),(106,6.38),(108,6.25),(108.5,6.05),
    (109,5.85),(111,6.00),(112,6.10),(113,5.65),(115,5.95),(118,5.25),(120,5.95),(120.5,6.05),(121,6.65),
    (122,6.45),(125,5.90),(126,6.08),(128,5.80),(131,5.90),(133,6.27),(135,6.00),(136,6.05),(140,5.20),
    (140,5.28),(141,5.75),(141.5,5.95),(141.5,6.10),(143,5.50),(146,5.50),(155,6.00),(156,6.00),(157,5.27),
    (157.5,5.90),(158,5.85),(160,6.05),(161,6.35),(163,5.10),(163.5,5.13),(164,5.55),(165,5.98),(166,6.25),
    (166.5,5.60),(167,6.30),(168,5.92),(168,6.05),(169,6.28),(172,5.30),(173,6.05),(174,5.70),(174.5,5.72),
    (177,6.20),(177.5,6.28),(178,6.50),(178,6.00),(180,5.25),(181,5.95),(182,6.17),(183,6.12),(183.5,6.02),
    (184,5.70),(185,5.85),(185,5.15),(187,6.67),(191,6.30),(193,6.03),(195,5.08),(195,5.12),(196,6.03),
    (197,6.02),(198,6.03),(200,5.23),
    # outliers
    (86.6,7.72),(184.8,7.73),(22,7.71),(28.6,7.73),(50.2,7.70),(50.2,7.33),(41.3,7.19),(6.4,4.89),(6.6,4.92),
    (18.2,4.83),(39.3,4.72),(40.6,5.36),(20.2,5.60),(135,4.03),
]

panel_data = [sendai_pts, yamagata_fukushima_pts, yamagata_pts]
y_limits = [(12.5, 10.5), (10.0, 7.0), (8.0, 4.0)]
y_major = [1, 1, 2]
y_minor = [0.5, 0.5, 1]
marker_sizes = [21, 8, 22]

# ---------------- figure ----------------
sns.set_style("white")
plt.rcParams["font.family"] = ["DejaVu Sans"]

W, H = 828, 1040
fig = plt.figure(figsize=(W / 100, H / 100), dpi=100)
panel_px = [(18, 309), (340, 628), (658, 948)]
left_px, right_px = 108, 808

for i, (top, bot) in enumerate(panel_px):
    ax = fig.add_axes([left_px / W, 1 - bot / H, (right_px - left_px) / W, (bot - top) / H])
    df = pd.DataFrame(panel_data[i], columns=["day", "depth"])
    sns.scatterplot(data=df, x="day", y="depth", ax=ax, color="black",
                    s=marker_sizes[i], linewidth=0, legend=False, zorder=2,
                    marker="o")
    ax.set_xlim(0, 200)
    ax.set_ylim(*y_limits[i])
    ax.xaxis.set_major_locator(MultipleLocator(50))
    ax.xaxis.set_minor_locator(MultipleLocator(10))
    ax.yaxis.set_major_locator(MultipleLocator(y_major[i]))
    ax.yaxis.set_minor_locator(MultipleLocator(y_minor[i]))
    ax.tick_params(which="both", direction="out", top=True, right=True,
                   bottom=True, left=True, color="black", width=1.3)
    ax.tick_params(which="major", length=8, labelsize=15, pad=8)
    ax.tick_params(which="minor", length=4)
    for lab in ax.get_xticklabels() + ax.get_yticklabels():
        lab.set_fontfamily("Liberation Sans")
    if i < 2:
        ax.tick_params(labelbottom=False)
    ax.set_xlabel("")
    ax.set_ylabel("")
    for sp in ax.spines.values():
        sp.set_color("black")
        sp.set_linewidth(1.8)
    ax.text(-0.004, 1 - 29 / (bot - top), panel_labels[i], transform=ax.transAxes,
            fontsize=27, ha="left", va="baseline", color="black", zorder=5)

fig.text(26 / W, 1 - 485 / H, y_label, rotation=90, ha="center", va="center",
         fontsize=22, color="black")
fig.text(458 / W, 1 - 1026 / H, x_label, ha="center", va="baseline",
         fontsize=23.4, color="black")

fig.savefig("out.png", dpi=100)
